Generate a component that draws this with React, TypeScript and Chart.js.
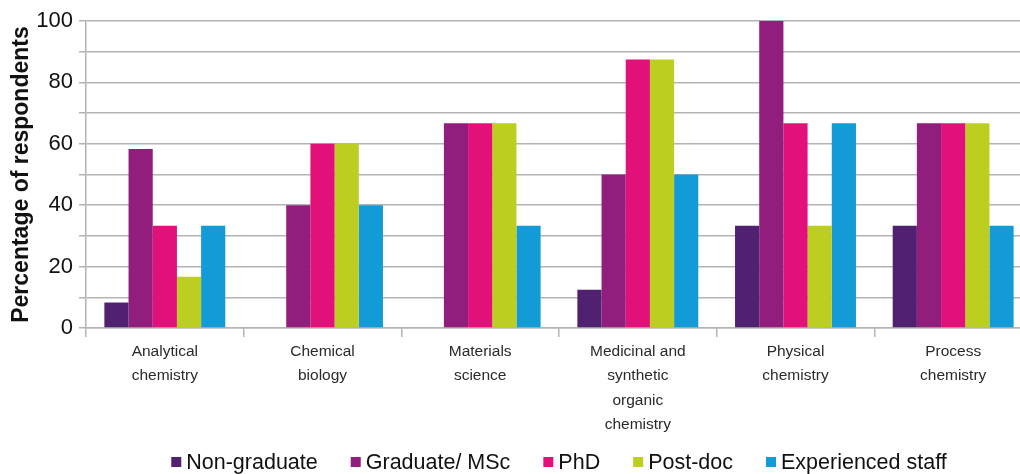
import React, { useEffect, useRef } from "react";
import { Chart, registerables } from "chart.js";

Chart.register(...registerables);

const categories: string[][] = [
  ["Analytical", "chemistry"],
  ["Chemical", "biology"],
  ["Materials", "science"],
  ["Medicinal and", "synthetic", "organic", "chemistry"],
  ["Physical", "chemistry"],
  ["Process", "chemistry"],
];

const seriesNames = ["Non-graduate", "Graduate/ MSc", "PhD", "Post-doc", "Experienced staff"];
const seriesColors = ["#4f2170", "#911d7c", "#e2117a", "#bccf21", "#129bd6"];

const nonGraduate = [8.3, 0, 0, 12.5, 33.3, 33.3];
const graduateMSc = [58.3, 40, 66.7, 50, 100, 66.7];
const phd = [33.3, 60, 66.7, 87.5, 66.7, 66.7];
const postDoc = [16.7, 60, 66.7, 87.5, 33.3, 66.7];
const experiencedStaff = [33.3, 40, 33.3, 50, 66.7, 33.3];

const seriesValues = [nonGraduate, graduateMSc, phd, postDoc, experiencedStaff];

const yTickLabels = [0, 20, 40, 60, 80, 100];

const FONT = '"Liberation Sans", Arial, Helvetica, sans-serif';

const customLegend = {
  id: "customLegend",
  afterDraw(chart: any) {
    const ctx = chart.ctx;
    const { left, right } = chart.chartArea;
    ctx.save();
    ctx.font = `21.5px ${FONT}`;
    ctx.textBaseline = "middle";
    ctx.textAlign = "left";
    const box = 10;
    const gapText = 5;
    const gapItem = 33;
    const items = chart.data.datasets.map((d: any) => ({
      label: d.label,
      color: d.backgroundColor,
      w: ctx.measureText(d.label).width,
    }));
    const total =
      items.reduce((s: number, it: any) => s + box + gapText + it.w, 0) +
      gapItem * (items.length - 1);
    let x = (left + right) / 2 - total / 2;
    const y = 462;
    for (const it of items) {
      ctx.fillStyle = it.color;
      ctx.fillRect(x, y - box / 2, box, box);
      ctx.fillStyle = "#111111";
      ctx.fillText(it.label, x + box + gapText, y + 1);
      x += box + gapText + it.w + gapItem;
    }
    ctx.restore();
  },
};

export default function App() {
  const ref = useRef<HTMLCanvasElement | null>(null);

  useEffect(() => {
    if (!ref.current) return;
    const chart = new Chart(ref.current, {
      type: "bar",
      data: {
        labels: categories,
        datasets: seriesNames.map((name, i) => ({
          label: name,
          data: seriesValues[i],
          backgroundColor: seriesColors[i],
          borderWidth: 0,
          categoryPercentage: 0.767,
          barPercentage: 1,
        })),
      },
      options: {
        animation: false,
        responsive: false,
        maintainAspectRatio: false,
        layout: { padding: { top: 21, right: 2, bottom: 0, left: 0 } },
        plugins: {
          legend: { display: false },
          tooltip: { enabled: false },
        },
        scales: {
          x: {
            offset: true,
            grid: {
              offset: true,
              drawOnChartArea: false,
              drawTicks: true,
              tickLength: 9,
              color: "#b3b3b3",
              lineWidth: 1.5,
            },
            border: { display: true, color: "#b3b3b3", width: 1.5 },
            ticks: {
              autoSkip: false,
              maxRotation: 0,
              padding: 2,
              color: "#2a2a2a",
              font: { family: FONT, size: 15.5, lineHeight: "24.5px" },
            },
            afterFit: (scale: any) => {
              scale.height = 474 - 328;
            },
          },
          y: {
            min: 0,
            max: 100,
            grid: {
              color: "#b3b3b3",
              lineWidth: 1.5,
              drawTicks: true,
              tickLength: 7,
            },
            border: { display: true, color: "#b3b3b3", width: 1.5 },
            ticks: {
              stepSize: 10,
              padding: 6,
              color: "#111111",
              font: { family: FONT, size: 22 },
              callback: (v: any) => (yTickLabels.includes(Number(v)) ? String(v) : ""),
            },
            title: {
              display: true,
              text: "Percentage of respondents",
              color: "#111111",
              font: { family: FONT, size: 23, weight: "bold" },
              padding: { top: 8, bottom: 0 },
            },
            afterFit: (scale: any) => {
              scale.width = 86;
            },
          },
        },
      },
      plugins: [customLegend],
    });
    return () => chart.destroy();
  }, []);

  return (
    <div
      style={{
        position: "fixed",
        left: 0,
        top: 0,
        width: 1020,
        height: 474,
        overflow: "hidden",
        background: "#ffffff",
      }}
    >
      <canvas ref={ref} width={1034} height={474} style={{ display: "block" }} />
    </div>
  );
}
